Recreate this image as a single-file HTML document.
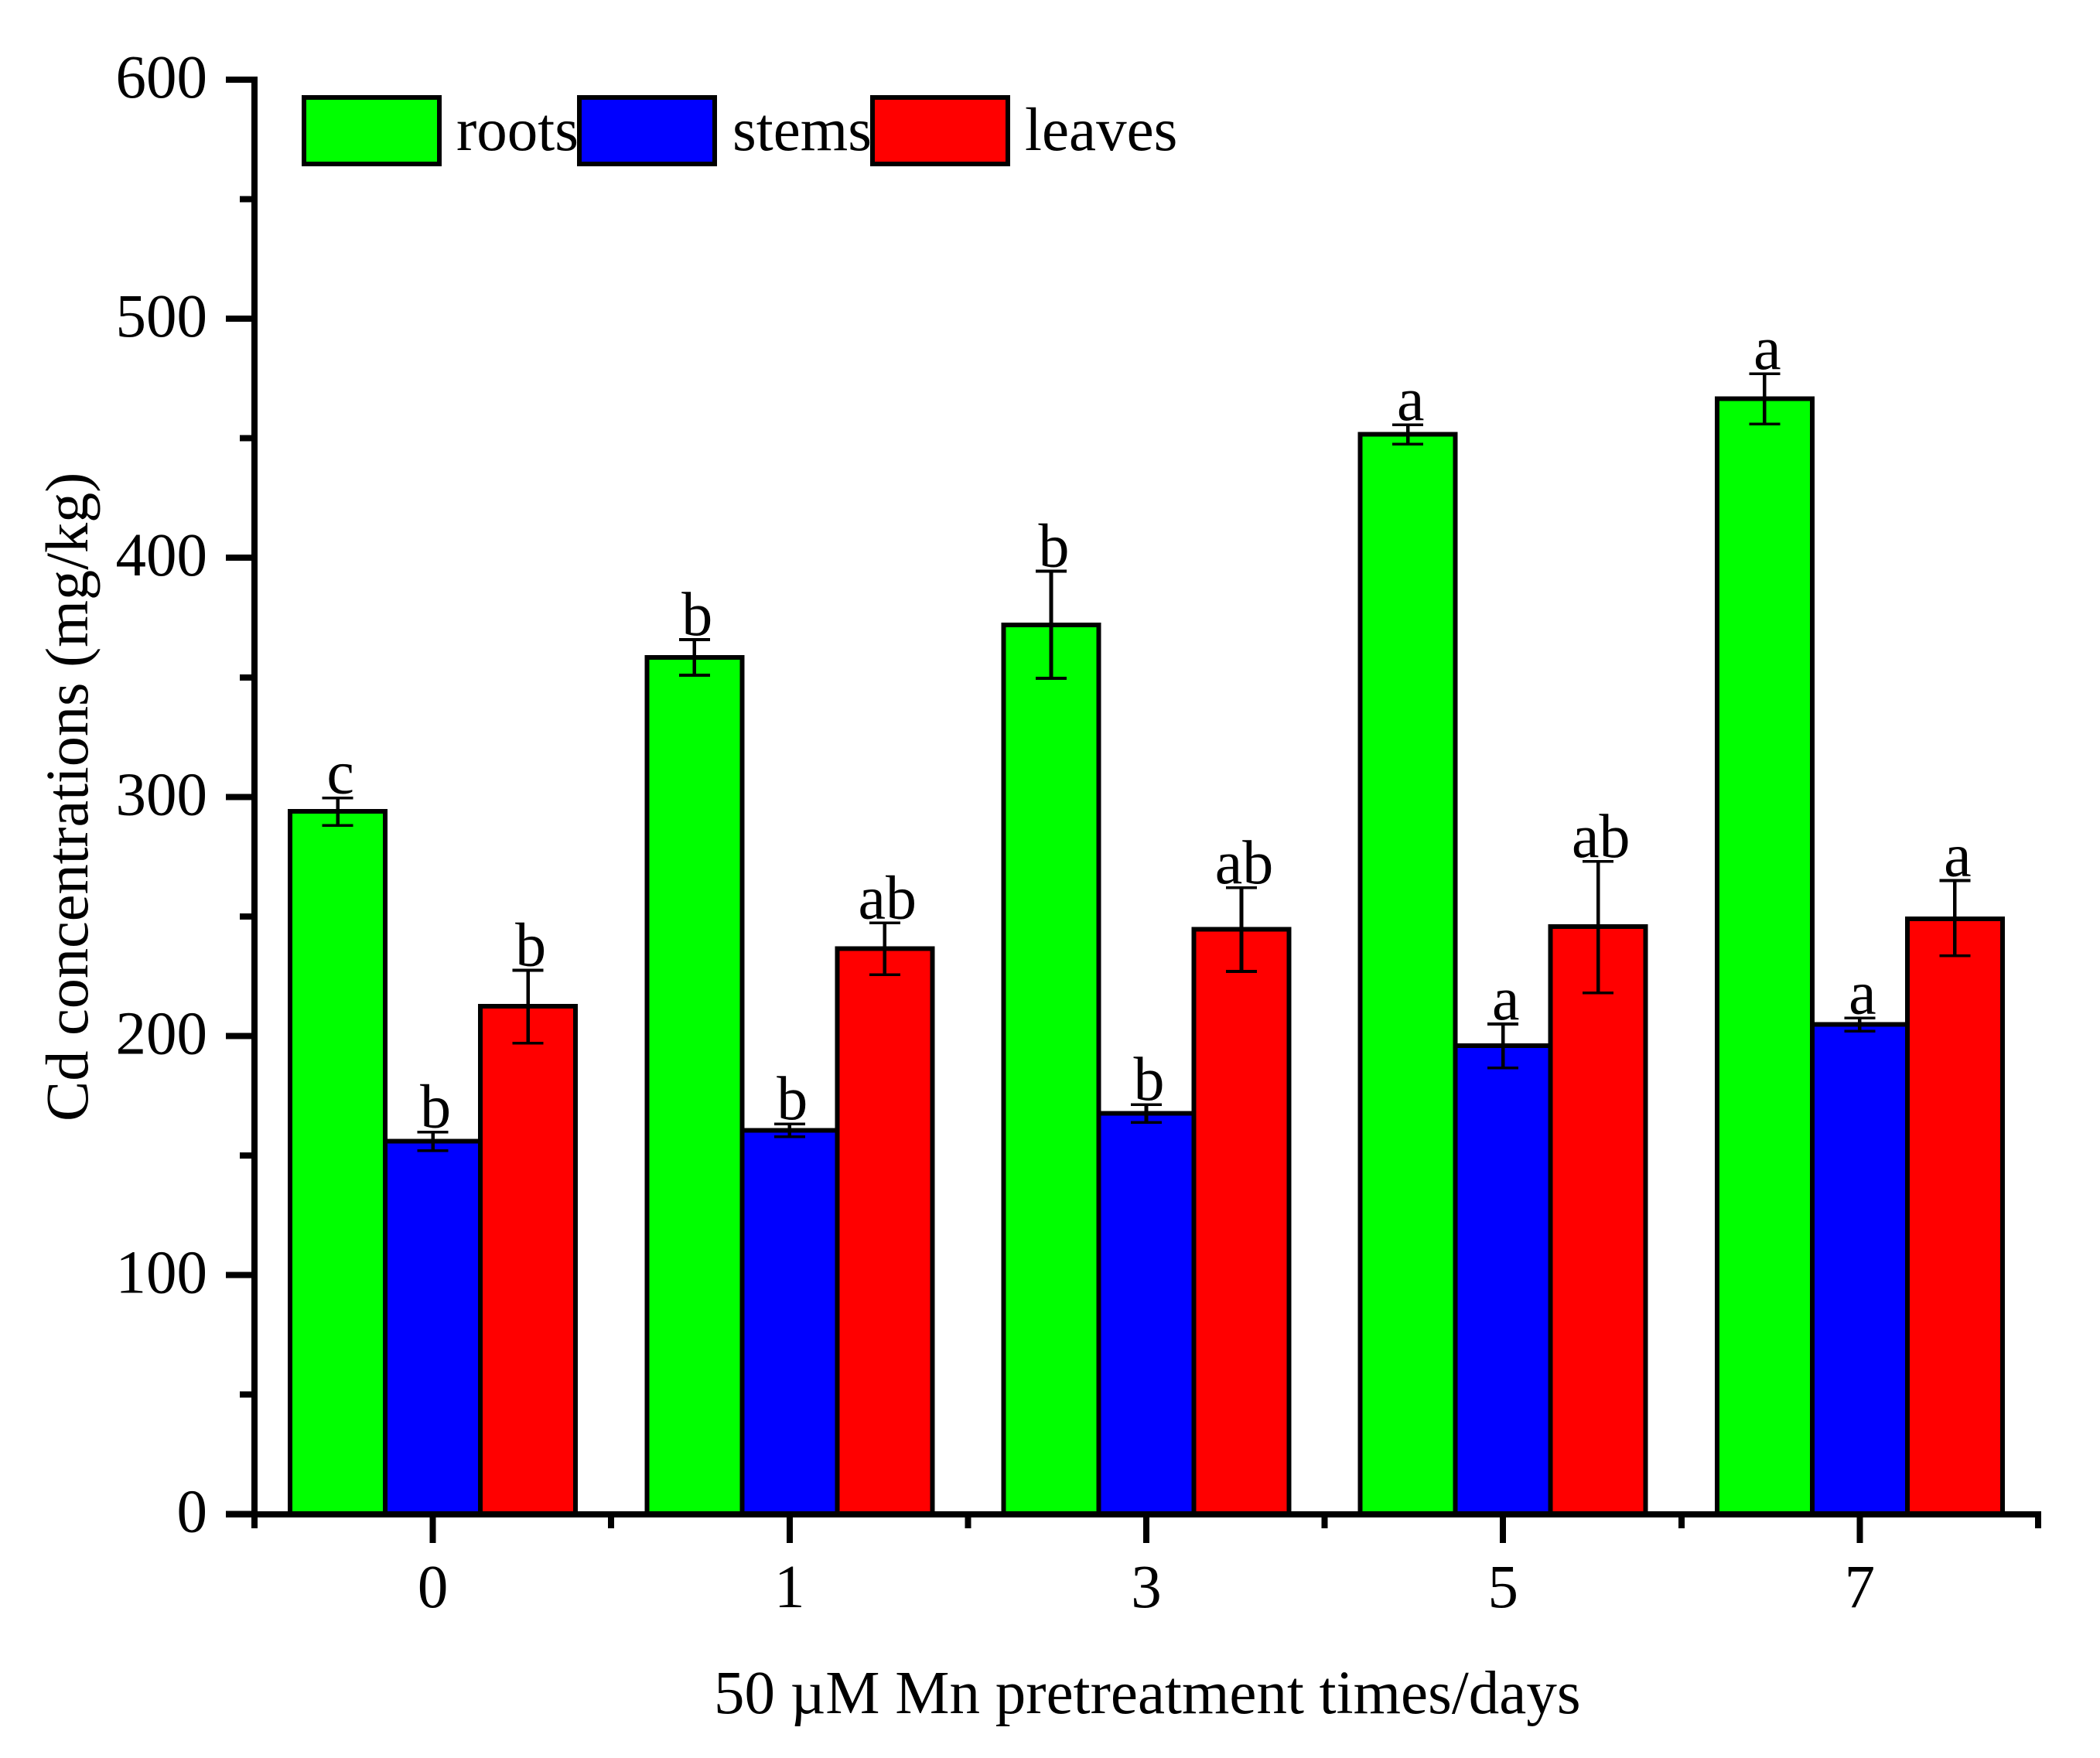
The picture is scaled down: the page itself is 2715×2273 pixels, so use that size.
<!DOCTYPE html>
<html lang="en">
<head>
<meta charset="utf-8">
<title>Cd concentrations by Mn pretreatment time</title>
<style>
  html, body { margin: 0; padding: 0; background: #fff; }
  svg { display: block; }
  text { font-family: "Liberation Serif", "Times New Roman", serif; fill: #000; }
</style>
</head>
<body>
<svg id="chart" xmlns="http://www.w3.org/2000/svg" width="2715" height="2273" viewBox="0 0 2715 2273">
  <rect x="0" y="0" width="2715" height="2273" fill="#fff"/>
  <g id="bars"></g>
  <g id="errors"></g>
  <g id="letters"></g>
  <g id="axes"></g>
  <g id="legend"></g>
  <text x="923" y="2215" font-size="79">50 µM Mn pretreatment times/days</text>
  <text transform="translate(113,1447) rotate(-90)" x="-3" y="0" font-size="78.3">Cd concentrations (mg/kg)</text>
</svg>
<script>
const categories = ['0', '1', '3', '5', '7'];
const seriesNames = ['roots', 'stems', 'leaves'];
const rootsValues = [294, 358.4, 372, 451.7, 466.6];
const stemsValues = [156, 160.6, 167.6, 196, 204.8];
const leavesValues = [212.4, 236.6, 244.7, 245.8, 249];
const rootsErrorHigh = [299.6, 365.8, 394.4, 455.7, 477];
const rootsErrorLow = [288, 350.9, 349.6, 447.6, 456];
const stemsErrorHigh = [159.8, 163.2, 171.3, 205, 207.5];
const stemsErrorLow = [152, 157.8, 163.9, 186.6, 202];
const leavesErrorHigh = [227.5, 247.3, 262, 273, 265];
const leavesErrorLow = [197, 225.6, 227, 218, 233.5];
const rootsLetters = ['c', 'b', 'b', 'a', 'a'];
const stemsLetters = ['b', 'b', 'b', 'a', 'a'];
const leavesLetters = ['b', 'ab', 'ab', 'ab', 'a'];
const yTickValues = [0, 50, 100, 150, 200, 250, 300, 350, 400, 450, 500, 550, 600];
const yTickLabels = ['0', '100', '200', '300', '400', '500', '600'];

const NS = 'http://www.w3.org/2000/svg';
const plot = { left: 329, right: 2635, y0: 1957.7, yTop: 103, yMax: 600 };
const barWidth = 123;
const fills = ['#00ff00', '#0000ff', '#ff0000'];
const allValues = [rootsValues, stemsValues, leavesValues];
const allHigh = [rootsErrorHigh, stemsErrorHigh, leavesErrorHigh];
const allLow = [rootsErrorLow, stemsErrorLow, leavesErrorLow];
const allLetters = [rootsLetters, stemsLetters, leavesLetters];

function yScale(v) {
  return plot.y0 - (v / plot.yMax) * (plot.y0 - plot.yTop);
}
function bandWidth() {
  return (plot.right - plot.left) / categories.length;
}
function xCenter(i) {
  return plot.left + bandWidth() * (i + 0.5);
}
function barCenter(i, s) {
  return xCenter(i) + (s - 1) * barWidth;
}
function make(tag, attrs, parent) {
  const el = document.createElementNS(NS, tag);
  Object.keys(attrs).forEach(function (k) { el.setAttribute(k, attrs[k]); });
  parent.appendChild(el);
  return el;
}

const barsG = document.getElementById('bars');
const errorsG = document.getElementById('errors');
const lettersG = document.getElementById('letters');
const axesG = document.getElementById('axes');
const legendG = document.getElementById('legend');

seriesNames.forEach(function (name, s) {
  categories.forEach(function (cat, i) {
    const cx = barCenter(i, s);
    const top = yScale(allValues[s][i]);
    const bar = make('rect', {
      x: cx - barWidth / 2, y: top, width: barWidth, height: plot.y0 - top,
      fill: fills[s], stroke: '#000', 'stroke-width': 6, 'shape-rendering': 'crispEdges'
    }, barsG);
    
    
  });
});

seriesNames.forEach(function (name, s) {
  categories.forEach(function (cat, i) {
    const cx = barCenter(i, s);
    const hi = yScale(allHigh[s][i]);
    const lo = yScale(allLow[s][i]);
    const g = make('g', { stroke: '#000', 'shape-rendering': 'crispEdges' }, errorsG);
    
    
    make('line', { x1: cx, x2: cx, y1: hi, y2: lo, 'stroke-width': 4.6 }, g);
    make('line', { x1: cx - 20, x2: cx + 20, y1: hi, y2: hi, 'stroke-width': 3.6 }, g);
    make('line', { x1: cx - 20, x2: cx + 20, y1: lo, y2: lo, 'stroke-width': 3.6 }, g);

    const t = make('text', {
      x: cx + 3.5, y: hi - 6, 'font-size': 80, 'text-anchor': 'middle'
    }, lettersG);
    
    
    t.textContent = allLetters[s][i];
  });
});

/* y axis */
const yAxisLine = make('rect', { x: 325, y: 99, width: 8, height: 1863, fill: '#000', 'shape-rendering': 'crispEdges' }, axesG);


yTickValues.forEach(function (v) {
  const major = v % 100 === 0;
  const left = major ? 292 : 310;
  const tick = make('rect', { x: left, y: yScale(v) - 4, width: 333 - left, height: 8, fill: '#000', 'shape-rendering': 'crispEdges' }, axesG);
  
  
});
yTickLabels.forEach(function (label) {
  const t = make('text', { x: 268, y: yScale(Number(label)) + 23, 'font-size': 79, 'text-anchor': 'end' }, axesG);
  
  
  t.textContent = label;
});

/* x axis */
const xAxisLine = make('rect', { x: 292, y: 1954, width: 2347, height: 8, fill: '#000', 'shape-rendering': 'crispEdges' }, axesG);


categories.forEach(function (cat, i) {
  const cx = xCenter(i);
  const major = make('rect', { x: cx - 4, y: 1962, width: 8, height: 33, fill: '#000', 'shape-rendering': 'crispEdges' }, axesG);
  
  
  const t = make('text', { x: cx, y: 2078, 'font-size': 79, 'text-anchor': 'middle' }, axesG);
  
  
  t.textContent = cat;
});
for (let i = 0; i <= categories.length; i++) {
  const mx = plot.left + bandWidth() * i;
  const minor = make('rect', { x: mx - 4, y: 1962, width: 8, height: 14, fill: '#000', 'shape-rendering': 'crispEdges' }, axesG);
  
  
}

/* legend */
const legendBoxX = [393, 749, 1128];
const legendTextX = [590, 947, 1325];
seriesNames.forEach(function (name, s) {
  const box = make('rect', {
    x: legendBoxX[s], y: 126, width: 175, height: 86,
    fill: fills[s], stroke: '#000', 'stroke-width': 6, 'shape-rendering': 'crispEdges'
  }, legendG);
  
  
  const t = make('text', { x: legendTextX[s], y: 194, 'font-size': 79 }, legendG);
  
  
  t.textContent = name;
});
</script>
</body>
</html>
